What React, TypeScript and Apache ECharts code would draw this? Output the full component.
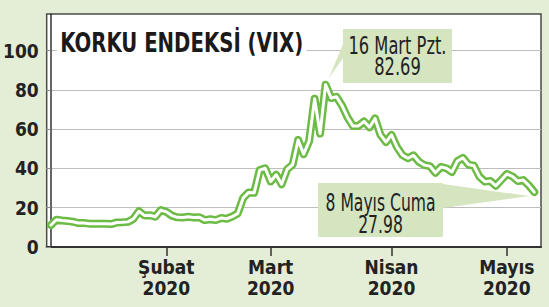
import React, { useEffect, useRef } from "react";
import * as echarts from "echarts";

// Trading days, 2 Jan – 8 May 2020
const dates = [
  "2020-01-02", "2020-01-03", "2020-01-06", "2020-01-07", "2020-01-08", "2020-01-09", "2020-01-10",
  "2020-01-13", "2020-01-14", "2020-01-15", "2020-01-16", "2020-01-17", "2020-01-21", "2020-01-22",
  "2020-01-23", "2020-01-24", "2020-01-27", "2020-01-28", "2020-01-29", "2020-01-30", "2020-01-31",
  "2020-02-03", "2020-02-04", "2020-02-05", "2020-02-06", "2020-02-07", "2020-02-10", "2020-02-11",
  "2020-02-12", "2020-02-13", "2020-02-14", "2020-02-18", "2020-02-19", "2020-02-20", "2020-02-21",
  "2020-02-24", "2020-02-25", "2020-02-26", "2020-02-27", "2020-02-28",
  "2020-03-02", "2020-03-03", "2020-03-04", "2020-03-05", "2020-03-06", "2020-03-09", "2020-03-10",
  "2020-03-11", "2020-03-12", "2020-03-13", "2020-03-16", "2020-03-17", "2020-03-18", "2020-03-19",
  "2020-03-20", "2020-03-23", "2020-03-24", "2020-03-25", "2020-03-26", "2020-03-27", "2020-03-30",
  "2020-03-31",
  "2020-04-01", "2020-04-02", "2020-04-03", "2020-04-06", "2020-04-07", "2020-04-08", "2020-04-09",
  "2020-04-13", "2020-04-14", "2020-04-15", "2020-04-16", "2020-04-17", "2020-04-20", "2020-04-21",
  "2020-04-22", "2020-04-23", "2020-04-24", "2020-04-27", "2020-04-28", "2020-04-29", "2020-04-30",
  "2020-05-01", "2020-05-04", "2020-05-05", "2020-05-06", "2020-05-07", "2020-05-08",
];

// VIX closing values
const vix = [
  11.2, 13.9, 13.5, 13.3, 12.9, 12.2, 12.2, 11.9, 11.9, 11.9, 11.8, 11.7, 12.5, 12.6,
  12.8, 14.3, 18.2, 16.1, 16.2, 15.4, 18.8,
  17.9, 16.0, 15.1, 15.0, 15.4, 15.0, 15.2, 13.7, 14.1, 13.7, 14.8, 14.4, 15.5, 17.1,
  25.0, 27.8, 27.6, 39.2, 40.1,
  33.4, 36.8, 32.0, 39.6, 41.9, 54.5, 47.3, 53.9, 75.5, 57.8, 82.69, 75.9, 76.5, 72.0,
  66.0, 61.6, 61.7, 64.0, 61.0, 65.5, 57.1, 53.5,
  57.1, 50.9, 46.8, 45.2, 46.7, 43.4, 41.7, 41.2, 37.8, 40.8, 40.1, 38.2, 43.8, 45.4,
  42.0, 41.4, 35.9, 33.3, 33.6, 31.2, 34.2,
  37.2, 36.0, 33.6, 34.1, 31.4, 27.98,
];

const monthNames = ["Ocak", "Şubat", "Mart", "Nisan", "Mayıs", "Haziran"];
const yTicks = [0, 20, 40, 60, 80, 100];
const titleText = "KORKU ENDEKSİ (VIX)";
const peakCaption = "16 Mart Pzt.";
const lastCaption = "8 Mayıs Cuma";

const COND = '"DejaVu Sans Condensed", "DejaVu Sans", sans-serif';
const GREEN = "#6cbb45";
const BOX = "#d5e5c0";
const PAGE = "#e4edd6";

// horizontal squeeze so that a text set in `font` spans `width` pixels
function squeeze(text: string, font: string, width: number): number {
  const ctx = document.createElement("canvas").getContext("2d");
  if (!ctx) return 0.8;
  ctx.font = font;
  const w = Math.max(...text.split("\n").map((t) => ctx.measureText(t).width));
  return w > 0 ? width / w : 0.8;
}

export default function App() {
  const ref = useRef<HTMLDivElement>(null);

  useEffect(() => {
    if (!ref.current) return;
    const chart = echarts.init(ref.current, null, { renderer: "svg" });

    const points = vix.map((v, i) => [i, v]);
    // first trading day of every month after the first
    const monthStarts = dates
      .map((_, i) => i)
      .filter((i) => i > 0 && dates[i].slice(5, 7) !== dates[i - 1].slice(5, 7));

    chart.setOption({
      animation: false,
      backgroundColor: PAGE,
      grid: {
        left: 45,
        right: 8,
        top: 14,
        bottom: 60,
        show: true,
        backgroundColor: "#ffffff",
        borderColor: "#4a4a4a",
        borderWidth: 1.5,
      },
      xAxis: {
        type: "value",
        min: -0.78,
        max: 89.22,
        splitLine: { show: false },
        axisLine: { show: true, lineStyle: { color: "#333", width: 2 } },
        axisTick: {
          show: true,
          customValues: monthStarts,
          length: 9,
          lineStyle: { color: "#333", width: 1.5 },
        },
        axisLabel: {
          customValues: monthStarts,
          formatter: (v: number) => {
            const d = dates[Math.round(v)];
            return monthNames[Number(d.slice(5, 7)) - 1] + "\n" + d.slice(0, 4);
          },
          fontFamily: COND,
          fontWeight: "bold",
          fontSize: 19,
          lineHeight: 21,
          color: "#222",
          margin: 9,
        },
      },
      yAxis: {
        type: "value",
        min: 0,
        max: 118.7,
        interval: 20,
        splitLine: { show: true, lineStyle: { color: "#bdbdbd", width: 1 } },
        axisLine: { show: true, lineStyle: { color: "#333", width: 1.5 } },
        axisTick: {
          show: true,
          customValues: yTicks,
          length: 5,
          lineStyle: { color: "#888", width: 1 },
        },
        axisLabel: {
          customValues: yTicks,
          fontFamily: COND,
          fontWeight: "bold",
          fontSize: 19,
          color: "#222",
          margin: 8,
        },
      },
      series: [
        {
          type: "line",
          data: points,
          symbol: "none",
          lineStyle: { color: GREEN, width: 8, join: "round", cap: "round" },
          z: 3,
        },
        {
          type: "line",
          data: points,
          symbol: "none",
          lineStyle: { color: "#ffffff", width: 3, join: "round", cap: "round" },
          z: 4,
        },
      ],
    });

    const peakIdx = vix.indexOf(Math.max(...vix));
    const lastIdx = vix.length - 1;
    const peakPx = chart.convertToPixel({ gridIndex: 0 }, [peakIdx, vix[peakIdx]]) as number[];
    const endPx = chart.convertToPixel({ gridIndex: 0 }, [lastIdx, vix[lastIdx]]) as number[];

    const peakLabel = peakCaption + "\n" + vix[peakIdx].toFixed(2);
    const lastLabel = lastCaption + "\n" + vix[lastIdx].toFixed(2);
    const titleScale = squeeze(titleText, `bold 27px "DejaVu Sans Condensed"`, 243);
    const peakScale = squeeze(peakCaption, `24px "DejaVu Sans Condensed"`, 98);
    const lastScale = squeeze(lastCaption, `24px "DejaVu Sans Condensed"`, 110);

    chart.setOption({
      graphic: [
        {
          type: "text",
          x: 57,
          y: 29,
          z: 100,
          scaleX: titleScale,
          style: {
            text: titleText,
            fontFamily: COND,
            fontWeight: "bold",
            fontSize: 27,
            fill: "#1a1a1a",
            backgroundColor: "#ffffff",
            padding: [0, 4],
          },
        },
        {
          type: "polygon",
          z: 100,
          shape: { points: [[343, 44], [343, 58], [peakPx[0] + 3, peakPx[1] - 6]] },
          style: { fill: BOX },
        },
        {
          type: "rect",
          z: 100,
          shape: { x: 343, y: 29, width: 109, height: 54 },
          style: { fill: BOX },
        },
        {
          type: "text",
          x: 397.5,
          y: 56,
          z: 101,
          scaleX: peakScale,
          style: {
            text: peakLabel,
            fontFamily: COND,
            fontSize: 24,
            lineHeight: 21,
            fill: "#222",
            align: "center",
            verticalAlign: "middle",
          },
        },
        {
          type: "polygon",
          z: 100,
          shape: { points: [[443, 184], [443, 208], [endPx[0] - 5, endPx[1] + 4]] },
          style: { fill: BOX },
        },
        {
          type: "rect",
          z: 100,
          shape: { x: 318, y: 183, width: 125, height: 54 },
          style: { fill: BOX },
        },
        {
          type: "text",
          x: 380.5,
          y: 214,
          z: 101,
          scaleX: lastScale,
          style: {
            text: lastLabel,
            fontFamily: COND,
            fontSize: 24,
            lineHeight: 22,
            fill: "#222",
            align: "center",
            verticalAlign: "middle",
          },
        },
      ],
    });

    return () => chart.dispose();
  }, []);

  return (
    <div
      ref={ref}
      style={{ position: "fixed", left: 0, top: 0, width: 549, height: 307 }}
    />
  );
}
